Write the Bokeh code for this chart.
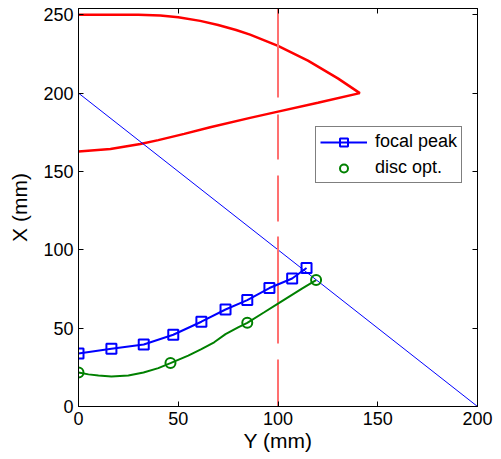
from bokeh.plotting import figure
from bokeh.models import Range1d, LinearAxis, FixedTicker, Legend, LegendItem, CustomJSTickFormatter
from bokeh.embed import file_html
from bokeh.resources import INLINE

# ---- data (horizontal axis = "Y (mm)", vertical axis = "X (mm)") ----
shape_y = [0, 20, 30, 41, 50, 61, 70, 79, 86, 100, 115, 130, 141,
           120, 100, 86, 66, 53, 40, 31, 16, 0]
shape_x = [250, 250, 250, 249.5, 248.4, 246.1, 243.5, 240.3, 237.3, 230.1, 220.7, 209.4, 200,
           193.9, 188.2, 184.2, 178.2, 174, 170, 167.5, 164.4, 162.8]

diag_y = [0, 200]
diag_x = [200, 0]

ref_y = [100, 100]
ref_x = [254, 0]

focal_y = [0, 16.5, 32.7, 47.5, 61.6, 73.7, 84.6, 95.7, 107.1, 114.3]
focal_x = [33.8, 36.8, 39.6, 45.8, 54.1, 61.9, 67.9, 75.6, 81.7, 88.4]

disc_curve_y = [0, 5, 10, 16.5, 25, 32.6, 40, 46.1, 55, 61.6, 68, 73.7, 80, 84.6,
                92.9, 100.4, 106, 112, 119.1]
disc_curve_x = [21.7, 20.5, 19.8, 19.2, 19.8, 21.7, 24.5, 27.7, 32.5, 36.6, 41, 46.2,
                50.5, 53.4, 60.0, 66.0, 70.5, 75.2, 80.7]

disc_y = [0, 46.1, 84.6, 119.1]
disc_x = [21.7, 27.7, 53.4, 80.7]

x_ticks = [0, 50, 100, 150, 200]
y_ticks = [0, 50, 100, 150, 200, 250]

FONT = "Liberation Sans"

p = figure(frame_width=399, frame_height=398,
           x_range=Range1d(0, 200), y_range=Range1d(0, 254),
           output_backend="svg", toolbar_location=None,
           min_border_left=78, min_border_right=16, min_border_top=8,
           min_border_bottom=40,
           x_axis_label="Y (mm)", y_axis_label="X (mm)")
p.grid.visible = False
p.outline_line_color = "black"
p.outline_line_width = 1

for ax, ticks in ((p.xaxis[0], x_ticks), (p.yaxis[0], y_ticks)):
    ax.ticker = FixedTicker(ticks=ticks)
    ax.major_tick_in = 5
    ax.major_tick_out = 0
    ax.minor_tick_line_color = None
    ax.axis_line_color = "black"
    ax.major_tick_line_color = "black"
    ax.major_label_text_font = FONT
    ax.major_label_text_font_size = "18px"
    ax.major_label_text_color = "black"
    ax.axis_label_text_font = FONT
    ax.axis_label_text_font_size = "21px"
    ax.axis_label_text_font_style = "normal"
    ax.axis_label_text_color = "black"
    ax.major_label_standoff = 5
p.xaxis[0].axis_label_standoff = 1
p.yaxis[0].axis_label_standoff = 9

for loc, ticks in (("above", x_ticks), ("right", y_ticks)):
    ax = LinearAxis(ticker=FixedTicker(ticks=ticks), major_tick_in=5, major_tick_out=0,
                    minor_tick_line_color=None,
                    formatter=CustomJSTickFormatter(code="return ''"),
                    major_label_standoff=0, axis_line_color="black",
                    major_tick_line_color="black")
    p.add_layout(ax, loc)

p.line(shape_y, shape_x, line_color="red", line_width=2.5)
p.line(diag_y, diag_x, line_color="blue", line_width=1)
p.line(ref_y, ref_x, line_color="#ff7070", line_width=2,
       line_dash="89 17 45 16 46 15 107 16 50")

fl = p.line(focal_y, focal_x, line_color="blue", line_width=2)
fs = p.scatter(focal_y, focal_x, marker="square", size=10, line_color="blue",
               line_width=2, fill_color=None)
p.line(disc_curve_y, disc_curve_x, line_color="#008000", line_width=2)
dm = p.scatter(disc_y, disc_x, marker="circle", size=10, line_color="#008000",
               line_width=2, fill_color=None)

legend = Legend(items=[LegendItem(label="focal peak", renderers=[fl, fs]),
                       LegendItem(label="disc opt.", renderers=[dm])],
                location=(237, 223), padding=4, spacing=5, margin=0,
                glyph_width=47, glyph_height=20, label_height=20,
                label_standoff=8, label_text_font=FONT,
                label_text_font_size="18px", label_text_color="black",
                border_line_color="black", border_line_width=1,
                background_fill_color="white", background_fill_alpha=1)
p.add_layout(legend)

open("out.html", "w").write(file_html(p, INLINE))
